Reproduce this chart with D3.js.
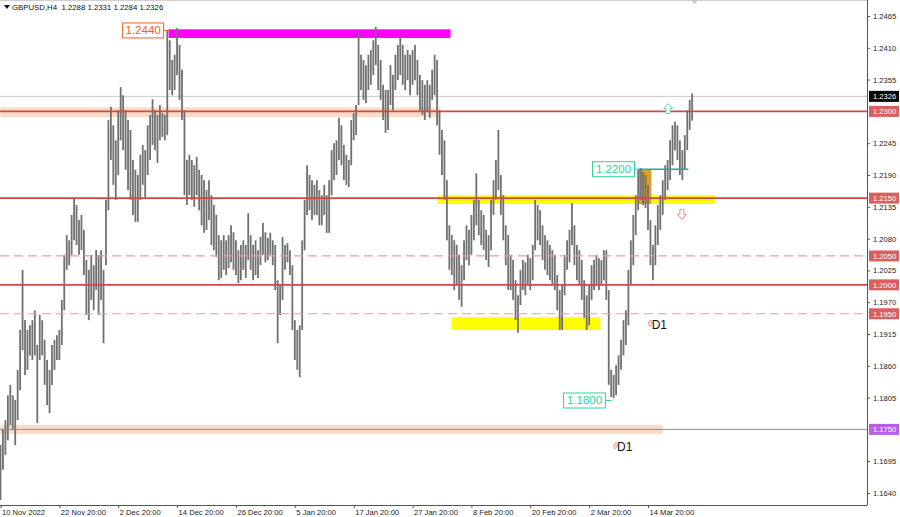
<!DOCTYPE html>
<html><head><meta charset="utf-8">
<script src="https://cdn.jsdelivr.net/npm/d3@7"></script>
<style>
body{margin:0;background:#fff;overflow:hidden;}
svg text{font-family:"Liberation Sans",Arial,sans-serif;}
</style></head><body>
<svg id="c" width="900" height="517"></svg>
<script>
// ---------- DATA ----------
const symbolTitle = "GBPUSD,H4";
const lastOHLC = [1.2288, 1.2331, 1.2284, 1.2326];
const dateLabels = ["10 Nov 2022","22 Nov 20:00","2 Dec 20:00","14 Dec 20:00","26 Dec 20:00","5 Jan 20:00","17 Jan 20:00","27 Jan 20:00","8 Feb 20:00","20 Feb 20:00","2 Mar 20:00","14 Mar 20:00"];
const barsPerLabel = 24; // each entry = 8 hours (two H4 bars)
const priceTicks = [1.2465,1.2410,1.2355,1.2245,1.2190,1.2135,1.2080,1.2025,1.1970,1.1915,1.1860,1.1805,1.1695,1.1640];

const highs = [
 1.1723,1.1749,1.1766,1.1809,1.1827,1.1809,1.1801,1.1853,1.1922,1.2026,1.1939,1.1922,1.1930,1.1939,1.1956,1.1896,1.1948,1.1939,1.1905,1.1870,1.1853,1.1896,1.1905,1.1913,
 1.1922,1.1974,1.2052,1.2086,1.2077,1.2121,1.2150,1.2138,1.2112,1.2121,1.2095,1.2043,1.2026,1.2052,1.2034,1.2060,1.2052,1.2060,1.2026,1.2147,1.2285,1.2308,1.2276,1.2250,
 1.2302,1.2342,1.2328,1.2302,1.2285,1.2268,1.2216,1.2199,1.2190,1.2225,1.2242,1.2233,1.2276,1.2294,1.2321,1.2302,1.2294,1.2311,1.2297,1.2294,1.2441,1.2423,1.2389,1.2398,
 1.2444,1.2415,1.2372,1.2302,1.2216,1.2225,1.2216,1.2207,1.2221,1.2199,1.2190,1.2181,1.2164,1.2181,1.2155,1.2138,1.2121,1.2086,1.2077,1.2086,1.2077,1.2086,1.2103,1.2091,
 1.2077,1.2060,1.2069,1.2077,1.2069,1.2124,1.2086,1.2069,1.2077,1.2060,1.2083,1.2107,1.2091,1.2081,1.2090,1.2077,1.2069,1.2008,1.2000,1.2083,1.2069,1.2072,1.2060,1.2034,
 1.1939,1.1922,1.1930,1.2077,1.2147,1.2207,1.2190,1.2181,1.2173,1.2181,1.2164,1.2155,1.2173,1.2155,1.2181,1.2233,1.2245,1.2250,1.2289,1.2276,1.2242,1.2225,1.2216,1.2285,
 1.2297,1.2311,1.2436,1.2398,1.2389,1.2380,1.2398,1.2406,1.2423,1.2446,1.2415,1.2389,1.2346,1.2337,1.2337,1.2380,1.2363,1.2398,1.2415,1.2429,1.2415,1.2398,1.2406,1.2398,
 1.2406,1.2415,1.2389,1.2363,1.2354,1.2346,1.2354,1.2346,1.2372,1.2398,1.2389,1.2302,1.2268,1.2250,1.2181,1.2103,1.2086,1.2077,1.2069,1.2052,1.2034,1.2077,1.2103,1.2095,
 1.2121,1.2147,1.2193,1.2147,1.2129,1.2121,1.2095,1.2086,1.2147,1.2181,1.2216,1.2268,1.2190,1.2155,1.2103,1.2086,1.2052,1.2043,1.2008,1.1982,1.2026,1.2043,1.2039,1.2052,
 1.2046,1.2069,1.2147,1.2138,1.2129,1.2103,1.2086,1.2077,1.2069,1.2060,1.2052,1.2017,1.1991,1.2000,1.2052,1.2077,1.2095,1.2141,1.2103,1.2069,1.2060,1.2043,1.2008,1.1982,
 1.2000,1.2034,1.2043,1.2052,1.2046,1.2043,1.2060,1.2060,1.1991,1.1853,1.1844,1.1861,1.1878,1.1905,1.1939,1.1956,1.2026,1.2077,1.2121,1.2155,1.2199,1.2202,1.2195,1.2190,
 1.2173,1.2112,1.2069,1.2103,1.2138,1.2155,1.2181,1.2207,1.2216,1.2250,1.2276,1.2282,1.2276,1.2250,1.2233,1.2259,1.2302,1.2320,1.2331
];
const lows = [
 1.1628,1.1680,1.1706,1.1731,1.1757,1.1749,1.1723,1.1766,1.1818,1.1887,1.1844,1.1853,1.1878,1.1870,1.1878,1.1761,1.1870,1.1878,1.1827,1.1792,1.1778,1.1827,1.1853,1.1870,
 1.1870,1.1896,1.1956,1.2026,1.2034,1.2052,1.2077,1.2069,1.2052,1.2060,1.2017,1.1948,1.1939,1.1974,1.1956,1.1991,1.1948,1.1974,1.1899,1.2034,1.2129,1.2216,1.2173,1.2147,
 1.2190,1.2250,1.2233,1.2199,1.2164,1.2147,1.2121,1.2109,1.2109,1.2147,1.2173,1.2152,1.2190,1.2216,1.2242,1.2233,1.2211,1.2250,1.2256,1.2250,1.2259,1.2337,1.2328,1.2337,
 1.2363,1.2320,1.2285,1.2155,1.2138,1.2155,1.2147,1.2135,1.2155,1.2129,1.2103,1.2090,1.2095,1.2112,1.2069,1.2060,1.2048,1.2008,1.2012,1.2026,1.2017,1.2029,1.2039,1.2026,
 1.2017,1.2003,1.2008,1.2026,1.2012,1.2043,1.2026,1.2008,1.2017,1.2012,1.2034,1.2052,1.2039,1.2043,1.2052,1.2034,1.1991,1.1899,1.1948,1.1974,1.2026,1.2039,1.2017,1.1922,
 1.1870,1.1853,1.1840,1.1922,1.2060,1.2121,1.2129,1.2112,1.2121,1.2121,1.2103,1.2103,1.2121,1.2090,1.2090,1.2155,1.2181,1.2190,1.2216,1.2207,1.2181,1.2173,1.2169,1.2207,
 1.2250,1.2259,1.2311,1.2337,1.2320,1.2314,1.2337,1.2346,1.2363,1.2380,1.2337,1.2320,1.2285,1.2263,1.2268,1.2311,1.2302,1.2337,1.2354,1.2363,1.2346,1.2337,1.2354,1.2328,
 1.2346,1.2354,1.2328,1.2302,1.2294,1.2285,1.2299,1.2289,1.2320,1.2328,1.2276,1.2225,1.2190,1.2147,1.2077,1.2026,1.2017,1.1991,1.2000,1.1974,1.1962,1.2008,1.2043,1.2034,
 1.2052,1.2077,1.2103,1.2086,1.2069,1.2060,1.2043,1.2031,1.2060,1.2121,1.2147,1.2164,1.2121,1.2077,1.2034,1.1991,1.1991,1.1974,1.1939,1.1917,1.1965,1.1991,1.1982,1.2000,
 1.1991,1.2008,1.2060,1.2077,1.2069,1.2043,1.2026,1.2017,1.2008,1.2000,1.1991,1.1956,1.1922,1.1922,1.1982,1.2026,1.2039,1.2069,1.2034,1.2008,1.2000,1.1974,1.1943,1.1922,
 1.1930,1.1974,1.1991,1.2000,1.1991,1.2000,1.2008,1.1974,1.1827,1.1806,1.1804,1.1809,1.1827,1.1853,1.1878,1.1896,1.1930,1.2000,1.2034,1.2086,1.2129,1.2147,1.2138,1.2133,
 1.2095,1.2034,1.2008,1.2034,1.2069,1.2095,1.2121,1.2147,1.2164,1.2181,1.2207,1.2233,1.2216,1.2190,1.2181,1.2199,1.2233,1.2268,1.2284
];

// horizontal levels
const solidLevels = [1.2300, 1.2150, 1.2000];
const dashedLevels = [1.2050, 1.1950];
const purpleLevel = 1.1750;
// zones: [startIndex, endIndex, priceTop, priceBottom]
const peachZones = [[0, 179.4, 1.2307, 1.2290], [0, 270, 1.1758, 1.1742]];
const yellowZones = [[178.2, 291.5, 1.2155, 1.2140], [183.9, 244.6, 1.1944, 1.1922]];
const magentaZone = [68.5, 183.5, 1.2442, 1.2427];
const orangeZone = [260.1, 265.4, 1.2200, 1.2140];
const tealLine = [260.1, 280.5, 1.2200];
// price tags: [rightEdgeIndex, price, text, anchorIndex]
const orangeTags = [[66.5, 1.2440, "1.2440", 68.5]];
const greenTags = [[258.5, 1.2200, "1.2200", 260.1], [246.7, 1.1800, "1.1800", 249.1]];
const upArrows = [[272.2, 1.2305]];
const downArrows = [[277.8, 1.2122]];
const d1Marks = [[266.3, 1.1933], [252.2, 1.1721]];
const axisTags = [
  {p:1.2326, t:"1.2326", c:"#000000"},
  {p:1.2300, t:"1.2300", c:"#dc5f5f"},
  {p:1.2150, t:"1.2150", c:"#dc5f5f"},
  {p:1.2050, t:"1.2050", c:"#dc5f5f"},
  {p:1.2000, t:"1.2000", c:"#dc5f5f"},
  {p:1.1950, t:"1.1950", c:"#dc5f5f"},
  {p:1.1750, t:"1.1750", c:"#b95fe6"}
];

// ---------- LAYOUT ----------
const svg = d3.select("#c");
const plotRight = 867, plotBottom = 505;
const y = d3.scaleLinear().domain([1.1640, 1.2465]).range([493, 16]);
const x = d3.scaleLinear().domain([0, barsPerLabel * 11]).range([0.5, 648]);
const fs = "7.6px";

const g = svg.append("g");
svg.append("defs").append("clipPath").attr("id","pc")
  .append("rect").attr("x",0).attr("y",0).attr("width",plotRight).attr("height",plotBottom);
const plot = g.append("g").attr("clip-path","url(#pc)");

// zones (behind bars)
plot.selectAll(".peach").data(peachZones).join("rect")
  .attr("x", d=>x(d[0])).attr("width", d=>x(d[1])-x(d[0]))
  .attr("y", d=>y(d[2])).attr("height", d=>y(d[3])-y(d[2]))
  .attr("fill", "#f9dcc6");
plot.selectAll(".yel").data(yellowZones).join("rect")
  .attr("x", d=>x(d[0])).attr("width", d=>x(d[1])-x(d[0]))
  .attr("y", d=>y(d[2])).attr("height", d=>y(d[3])-y(d[2]))
  .attr("fill", "#ffff00");
plot.append("rect")
  .attr("x", x(magentaZone[0])).attr("width", x(magentaZone[1])-x(magentaZone[0]))
  .attr("y", y(magentaZone[2])).attr("height", y(magentaZone[3])-y(magentaZone[2]))
  .attr("fill", "#ff00ff");
plot.append("rect")
  .attr("x", x(orangeZone[0])).attr("width", x(orangeZone[1])-x(orangeZone[0]))
  .attr("y", y(orangeZone[2])).attr("height", y(orangeZone[3])-y(orangeZone[2]))
  .attr("fill", "#d9a02a");

// last price line
plot.append("line").attr("x1",0).attr("x2",plotRight)
  .attr("y1", y(lastOHLC[3])).attr("y2", y(lastOHLC[3]))
  .attr("stroke","#c8c8c8").attr("stroke-width",1);

// bars
plot.selectAll(".bar").data(highs).join("line")
  .attr("x1", (d,i)=>x(i)).attr("x2", (d,i)=>x(i))
  .attr("y1", d=>y(d)).attr("y2", (d,i)=>y(lows[i]))
  .attr("stroke", "#707070").attr("stroke-width", 1.8);

// horizontal lines
plot.selectAll(".sl").data(solidLevels).join("line")
  .attr("x1",0).attr("x2",plotRight).attr("y1",d=>y(d)).attr("y2",d=>y(d))
  .attr("stroke","#d04848").attr("stroke-width",1.6);
plot.selectAll(".dl").data(dashedLevels).join("line")
  .attr("x1",0).attr("x2",plotRight).attr("y1",d=>y(d)).attr("y2",d=>y(d))
  .attr("stroke","#e4a0a0").attr("stroke-width",1.2).attr("stroke-dasharray","9,5");
plot.append("line").attr("x1",0).attr("x2",plotRight).attr("y1",y(purpleLevel)).attr("y2",y(purpleLevel))
  .attr("stroke","#bb66cc").attr("stroke-width",1);
plot.append("line").attr("x1",x(tealLine[0])).attr("x2",x(tealLine[1]))
  .attr("y1",y(tealLine[2])).attr("y2",y(tealLine[2]))
  .attr("stroke","#20a8a8").attr("stroke-width",1.6);

// price tags
function tag(list, color, fsz, w, h) {
  list.forEach(d=>{
    const xr = x(d[0]), yc = y(d[1]);
    plot.append("line").attr("x1",xr).attr("x2",x(d[3])).attr("y1",yc).attr("y2",yc)
      .attr("stroke",color).attr("stroke-width",1);
    plot.append("rect").attr("x",xr-w).attr("y",yc-h/2).attr("width",w).attr("height",h)
      .attr("fill","#fff").attr("stroke",color).attr("stroke-width",1);
    plot.append("text").attr("x",xr-w/2).attr("y",yc+4).attr("text-anchor","middle")
      .attr("font-size",fsz).attr("fill",color).text(d[2]);
  });
}
tag(orangeTags, "#f0602a", "11.5px", 41, 15);
tag(greenTags, "#2fd39a", "11.5px", 42, 15);

// arrows
function arrow(cx, cy, dir, color) {
  const s = dir; // -1 up, 1 down
  const pts = [[0,5*s],[4.5,0],[2,0],[2,-5*s],[-2,-5*s],[-2,0],[-4.5,0]];
  plot.append("path").attr("d", d3.line()(pts.map(p=>[cx+p[0], cy+p[1]]))+"Z")
    .attr("fill","#fff").attr("stroke",color).attr("stroke-width",1);
}
upArrows.forEach(d=>arrow(x(d[0]), y(d[1]), -1, "#5fe0b0"));
downArrows.forEach(d=>arrow(x(d[0]), y(d[1]), 1, "#f09080"));

// D1 marks
d1Marks.forEach(d=>{
  const cx = x(d[0]), cy = y(d[1]);
  const pts = [[-3,-3],[-1,-3],[-1,-5],[1,-5],[1,-3],[1.5,-3],[-1,1]];
  plot.append("path").attr("d", d3.line()(pts.map(p=>[cx-3+p[0]*0.9, cy+2+p[1]]))+"Z")
    .attr("fill","none").attr("stroke","#f09080").attr("stroke-width",0.9);
  plot.append("text").attr("x",cx-2).attr("y",cy+5).attr("font-size","12px").attr("fill","#111").text("D1");
});

// ---------- AXES ----------
const yAxis = d3.axisRight(y).tickValues(priceTicks).tickSize(3).tickPadding(3)
  .tickFormat(d3.format(".4f"));
const ya = g.append("g").attr("transform",`translate(${plotRight},0)`).call(yAxis);
ya.select(".domain").remove();
ya.selectAll("line").attr("stroke","#555");
ya.selectAll("text").attr("font-size",fs).attr("fill","#222");

const tickIdx = dateLabels.map((d,i)=>i*barsPerLabel);
const xAxis = d3.axisBottom(x).tickValues(tickIdx).tickSize(3).tickPadding(1.5)
  .tickFormat((d,i)=>dateLabels[i]);
const xa = g.append("g").attr("transform",`translate(0,${plotBottom})`).call(xAxis);
xa.select(".domain").remove();
xa.selectAll("line").attr("stroke","#555");
xa.selectAll("text").attr("font-size",fs).attr("fill","#222").attr("text-anchor","start").attr("dx","1");

// frame
g.append("line").attr("x1",plotRight+0.5).attr("x2",plotRight+0.5).attr("y1",0).attr("y2",plotBottom)
  .attr("stroke","#555").attr("stroke-width",1);
g.append("line").attr("x1",0).attr("x2",plotRight+0.5).attr("y1",plotBottom+0.5).attr("y2",plotBottom+0.5)
  .attr("stroke","#555").attr("stroke-width",1);
g.append("line").attr("x1",0).attr("x2",plotRight).attr("y1",0.5).attr("y2",0.5)
  .attr("stroke","#cfcfcf").attr("stroke-width",1);

// axis tags
const at = g.selectAll(".atag").data(axisTags).join("g")
  .attr("transform", d=>`translate(${plotRight+2},${y(d.p)})`);
at.append("rect").attr("x",0).attr("y",-5.5).attr("width",30).attr("height",11).attr("fill",d=>d.c);
at.append("text").attr("x",4).attr("y",3).attr("font-size",fs).attr("fill","#fff").text(d=>d.t);

// header
g.append("path").attr("d","M4,5 L10,5 L7,9 Z").attr("fill","#111");
g.append("text").attr("x",12).attr("y",10).attr("font-size","7.8px").attr("fill","#111")
  .attr("xml:space","preserve")
  .text(symbolTitle + "  " + lastOHLC.map(d=>d.toFixed(4)).join(" "));
// shift marker
g.append("path").attr("d",`M${x(283)-4},0 L${x(283)+4},0 L${x(283)},4 Z`).attr("fill","#c8c8c8");
</script>
</body></html>
